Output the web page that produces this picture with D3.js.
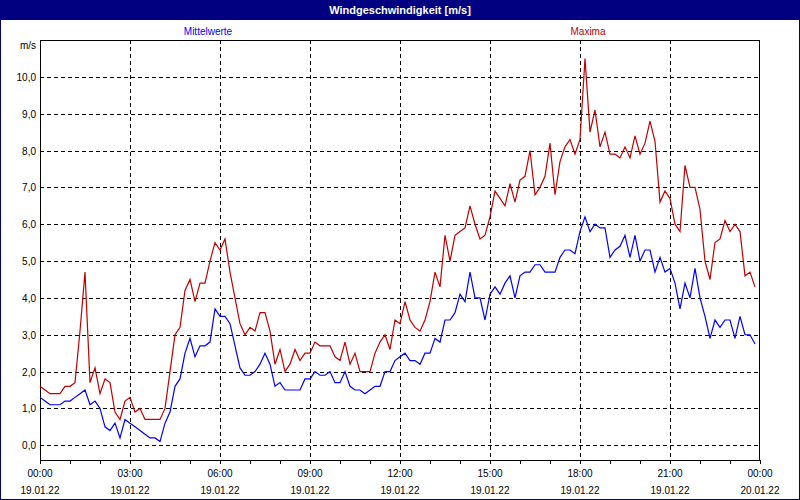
<!DOCTYPE html>
<html><head><meta charset="utf-8">
<script src="https://cdn.jsdelivr.net/npm/d3@7"></script>
<style>
html,body{margin:0;padding:0;background:#fff;}
svg text{font-family:"Liberation Sans",Arial,sans-serif;}
</style></head>
<body>
<script>
// Data: 10-minute values from 00:00 to 23:50
const maxima = [
1.6,1.5,1.4,1.4,1.4,1.6,1.6,1.7,3.1,4.7,
1.7,2.1,1.4,1.8,1.7,0.9,0.7,1.2,1.3,0.9,
1.0,0.7,0.7,0.7,0.7,1.0,2.0,3.0,3.2,4.2,
4.5,3.9,4.4,4.4,5.0,5.5,5.3,5.6,4.7,4.0,
3.3,3.0,3.2,3.1,3.6,3.6,3.1,2.2,2.6,2.0,
2.2,2.6,2.3,2.5,2.5,2.8,2.7,2.7,2.7,2.4,
2.3,2.8,2.2,2.5,2.0,2.0,2.0,2.5,2.8,3.0,
2.6,3.4,3.3,3.9,3.4,3.2,3.1,3.4,3.9,4.7,
4.3,5.7,5.0,5.7,5.8,5.9,6.5,6.0,5.6,5.7,
6.2,6.9,6.7,6.5,7.1,6.6,7.2,7.3,8.0,6.8,
7.0,7.3,8.2,6.8,7.7,8.1,8.3,7.9,8.3,10.5,
8.5,9.1,8.1,8.5,7.9,7.9,7.8,8.1,7.8,8.4,
7.9,8.2,8.8,8.25,6.6,6.9,6.7,6.0,5.8,7.6,
7.0,7.0,6.4,5.0,4.5,5.5,5.6,6.1,5.8,6.0,
5.8,4.6,4.7,4.3
];
const mittelwerte = [
1.3,1.2,1.1,1.1,1.1,1.2,1.2,1.3,1.4,1.5,
1.1,1.2,1.0,0.5,0.4,0.6,0.2,0.7,0.6,0.5,
0.4,0.3,0.2,0.2,0.1,0.6,0.9,1.6,1.8,2.5,
2.9,2.4,2.7,2.7,2.8,3.7,3.5,3.5,3.3,2.7,
2.1,1.9,1.9,2.0,2.2,2.5,2.2,1.6,1.7,1.5,
1.5,1.5,1.5,1.8,1.8,2.0,1.9,1.9,2.0,1.7,
1.7,2.0,1.6,1.5,1.5,1.4,1.5,1.6,1.6,2.0,
2.0,2.3,2.4,2.5,2.3,2.3,2.2,2.5,2.5,2.9,
2.8,3.4,3.4,3.6,4.1,3.9,4.7,4.0,4.0,3.4,
4.1,4.3,4.1,4.4,4.6,4.0,4.6,4.7,4.7,4.9,
4.9,4.7,4.7,4.7,5.1,5.3,5.3,5.2,5.8,6.2,
5.8,6.0,5.9,5.9,5.1,5.3,5.4,5.7,5.1,5.7,
5.0,5.3,5.3,4.7,5.1,4.7,4.8,4.4,3.7,4.4,
4.0,4.8,4.0,3.5,2.9,3.4,3.2,3.4,3.4,2.9,
3.5,3.0,3.0,2.75
];
const timeLabels = ["00:00","03:00","06:00","09:00","12:00","15:00","18:00","21:00","00:00"];
const dateLabels = ["19.01.22","19.01.22","19.01.22","19.01.22","19.01.22","19.01.22","19.01.22","19.01.22","20.01.22"];
const yTicks = [0,1,2,3,4,5,6,7,8,9,10];
const seriesNames = ["Mittelwerte","Maxima"];
const title = "Windgeschwindigkeit [m/s]";
const unit = "m/s";

const W = 800, H = 500;
const L = 40, R = 760, T = 40, B = 460;
const navy = "#000080", red = "#c00000", blue = "#0000ff";

const svg = d3.select("body").append("svg").attr("width", W).attr("height", H);
svg.append("rect").attr("x",0.5).attr("y",0.5).attr("width",W-1).attr("height",H-1)
  .attr("fill","#fff").attr("stroke",navy);
svg.append("rect").attr("x",0).attr("y",0).attr("width",W).attr("height",20).attr("fill",navy);
svg.append("text").attr("x",400).attr("y",14).attr("text-anchor","middle")
  .attr("fill","#fff").attr("font-weight","bold").attr("font-size","11px").text(title);

svg.append("text").attr("x",208).attr("y",35).attr("text-anchor","middle")
  .attr("fill",blue).attr("font-size","10px").text(seriesNames[0]);
svg.append("text").attr("x",588).attr("y",35).attr("text-anchor","middle")
  .attr("fill",red).attr("font-size","10px").text(seriesNames[1]);

const x = d3.scaleLinear().domain([0,1440]).range([L,R]);
const y = d3.scaleLinear().domain([-0.4,11]).range([B,T]);
const px = v => Math.round(v) + 0.5;

const grid = svg.append("g").attr("stroke","#000").attr("stroke-dasharray","4,3")
  .attr("shape-rendering","crispEdges");
yTicks.forEach(v => {
  grid.append("line").attr("x1",L).attr("x2",R).attr("y1",px(y(v))).attr("y2",px(y(v)));
});
timeLabels.forEach((t,i) => {
  if (i===0 || i===timeLabels.length-1) return;
  const xx = px(x(i*180));
  grid.append("line").attr("x1",xx).attr("x2",xx).attr("y1",T).attr("y2",B);
});

// frame
svg.append("rect").attr("x",L+0.5).attr("y",T+0.5).attr("width",R-L-1).attr("height",B-T)
  .attr("fill","none").attr("stroke","#000").attr("shape-rendering","crispEdges");

// hourly ticks
const xAxis = d3.axisBottom(x).tickValues(d3.range(0,1441,60)).tickSize(4).tickFormat("");
const gx = svg.append("g").attr("transform",`translate(0,${B})`).call(xAxis);
gx.select(".domain").remove();
gx.selectAll("line").attr("stroke","#000").attr("shape-rendering","crispEdges");

// x labels
timeLabels.forEach((t,i) => {
  svg.append("text").attr("x",x(i*180)).attr("y",477).attr("text-anchor","middle")
    .attr("font-size","10px").attr("fill","#000").text(t);
  svg.append("text").attr("x",x(i*180)).attr("y",494).attr("text-anchor","middle")
    .attr("font-size","10px").attr("fill","#000").text(dateLabels[i]);
});
// y labels
const fmt = v => d3.format(".1f")(v).replace(".",",");
yTicks.forEach(v => {
  svg.append("text").attr("x",36).attr("y",y(v)+4).attr("text-anchor","end")
    .attr("font-size","10px").attr("fill","#000").text(fmt(v));
});
svg.append("text").attr("x",36).attr("y",49).attr("text-anchor","end")
  .attr("font-size","10px").attr("fill","#000").text(unit);

const line = d3.line().x((d,i) => x(i*10)).y(d => y(d));
svg.append("path").datum(maxima).attr("d",line).attr("fill","none")
  .attr("stroke",red).attr("stroke-width",1.2);
svg.append("path").datum(mittelwerte).attr("d",line).attr("fill","none")
  .attr("stroke",blue).attr("stroke-width",1.2);
</script>
</body></html>
